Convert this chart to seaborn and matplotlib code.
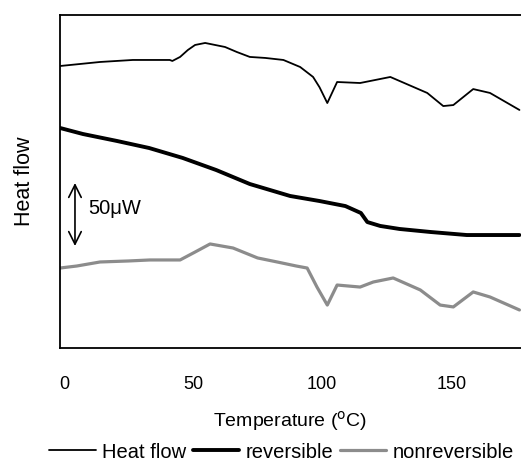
import numpy as np
import pandas as pd
import matplotlib
matplotlib.use("Agg")
import matplotlib.pyplot as plt
import seaborn as sns

# temperature (C) and signal (uW, arbitrary offset)
heat_T = [-1.5, 14, 26.7, 41, 42, 45, 48, 50.8, 54.7, 62.4, 67, 72, 78, 85, 91.5, 96.5,
          99, 102, 105.8, 114.7, 126.4, 140.7, 146.9, 150.8, 158.5, 165, 176.4]
heat_uW = [223.9, 227.1, 228.7, 228.7, 227.9, 231.1, 236.6, 240.6, 242.2, 239.0, 235.0,
           231.1, 230.3, 228.7, 223.1, 215.2, 207.0, 194.5, 211.2, 210.4, 215.2, 202.5,
           192.1, 192.9, 205.6, 202.5, 189.0]

rev_T = [-1.5, 7.4, 20.5, 33, 46, 59, 72, 87.6, 99, 109, 115, 117.5, 122.5, 130,
         142, 156, 176.4]
rev_uW = [174.7, 169.9, 164.4, 158.8, 150.9, 141.3, 130.2, 120.7, 116.7, 112.7,
          107.2, 100.0, 96.9, 94.5, 92.1, 89.7, 89.7]

nonrev_T = [-1.5, 5, 14, 25, 33.3, 45, 50.8, 56.6, 65.5, 75, 82.6, 90, 94.2, 98, 102,
            105.8, 114.7, 119.8, 127.5, 138, 145.7, 150.8, 158.5, 165, 176.4]
nonrev_uW = [63.5, 65.1, 68.3, 69.1, 69.9, 69.9, 76.2, 82.6, 79.4, 71.5, 68.3, 65.1,
             63.5, 48.4, 34.1, 50.0, 48.4, 52.4, 55.6, 46.1, 34.1, 32.6, 44.5, 40.5, 30.2]

x_ticks = [0, 50, 100, 150]

sns.set_style("white")
plt.rcParams['font.family'] = ['Liberation Sans', 'DejaVu Sans']
plt.rcParams['text.color'] = 'black'
plt.rcParams['axes.labelcolor'] = 'black'
plt.rcParams['xtick.color'] = 'black'

fig = plt.figure(figsize=(5.21, 4.61), dpi=100)
ax = fig.add_axes([60 / 521, 1 - 348 / 461, 461 / 521, 333 / 461])

df_h = pd.DataFrame({"T": heat_T, "v": heat_uW})
df_r = pd.DataFrame({"T": rev_T, "v": rev_uW})
df_n = pd.DataFrame({"T": nonrev_T, "v": nonrev_uW})

sns.lineplot(data=df_h, x="T", y="v", ax=ax, color="black", lw=1.3, label="Heat flow")
sns.lineplot(data=df_r, x="T", y="v", ax=ax, color="black", lw=2.8, label="reversible")
sns.lineplot(data=df_n, x="T", y="v", ax=ax, color="#8c8c8c", lw=2.3, label="nonreversible")

ax.set_xlim(-1.5, 177)
ax.set_ylim(0, 264.4)
ax.set_xticks(x_ticks)
ax.set_yticks([])
ax.tick_params(axis="x", direction="in", length=5, width=1.2, labelsize=13, pad=20)
for side in ["left", "bottom", "top"]:
    ax.spines[side].set_color("black")
    ax.spines[side].set_linewidth(1.3)
ax.spines["right"].set_visible(False)

ax.set_xlabel("Temperature ($^{\\rm o}$C)", fontsize=14, labelpad=12)
ax.set_ylabel("Heat flow", fontsize=15.5, labelpad=18)

# 50 uW scale bar
ax.annotate("", xy=(4.3, 131.0), xytext=(4.3, 81.0),
            arrowprops=dict(arrowstyle="<->,head_length=0.9,head_width=0.45",
                            color="black", lw=1.2, shrinkA=0, shrinkB=0))
ax.text(9.3, 111, "50μW", fontsize=14.5, va="center", ha="left")

handles, labels = ax.get_legend_handles_labels()
ax.get_legend().remove()
fig.legend(handles, labels, loc="center", bbox_to_anchor=(281.5 / 521, 9 / 461), ncol=3,
           frameon=False, fontsize=14.5, handlelength=2.3, handletextpad=0.3,
           columnspacing=0.35, borderaxespad=0)

fig.savefig("out.png", dpi=100)
